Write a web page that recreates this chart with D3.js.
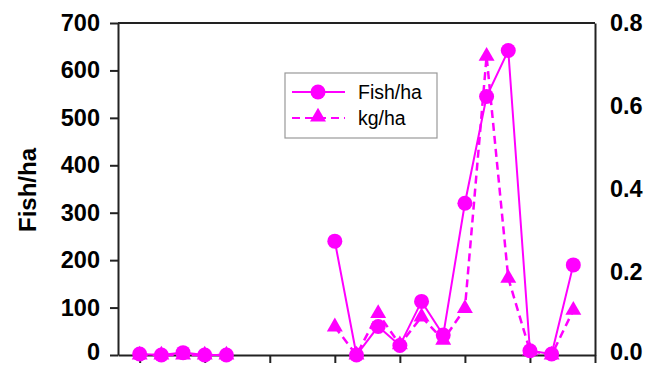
<!DOCTYPE html>
<html>
<head>
<meta charset="utf-8">
<script src="https://cdn.jsdelivr.net/npm/d3@7"></script>
<style>
  body { margin: 0; background: #fff; }
  svg { display: block; font-family: "Liberation Sans", Arial, sans-serif; }
</style>
</head>
<body>
<figure id="chart" style="margin:0"></figure>
<script>
// sampling points (no labels on the x axis)
const sites = d3.range(0, 21);
const fishHa = [2, 0, 5, 0, 0, null, null, null, null, 240, 0, 60, 20, 113, 42, 320, 545, 642, 9, 2, 190];
const kgHa = [0, 0, 0, 0, 0, null, null, null, null, 0.068, 0, 0.10, 0.025, 0.092, 0.036, 0.112, 0.72, 0.185, 0.01, 0, 0.108];
const leftTicks = [0, 100, 200, 300, 400, 500, 600, 700];
const rightTicks = [0, 0.2, 0.4, 0.6, 0.8];
const xTicks = [0, 3, 6, 9, 12, 15, 18, 21];

const width = 662, height = 366;
const margin = { top: 23, right: 67, bottom: 11, left: 118 };
const pink = "#ff00ff";
const axisColor = "#222";

const svg = d3.select("figure#chart")
  .append("svg")
  .attr("width", width)
  .attr("height", height);

const x = d3.scaleLinear().domain([-1, 21]).range([margin.left, width - margin.right]);
const yL = d3.scaleLinear().domain([0, 700]).range([height - margin.bottom, margin.top]);
const yR = d3.scaleLinear().domain([0, 0.8]).range([height - margin.bottom, margin.top]);

// axes
const gL = svg.append("g")
  .attr("transform", "translate(" + margin.left + ",0)")
  .call(d3.axisLeft(yL).tickValues(leftTicks).tickSize(8).tickPadding(10).tickSizeOuter(0));

const gR = svg.append("g")
  .attr("transform", "translate(" + (width - margin.right) + ",0)")
  .call(d3.axisRight(yR).tickValues(rightTicks).tickFormat(d3.format(".1f")).tickSize(0).tickPadding(15).tickSizeOuter(0));

const gB = svg.append("g")
  .attr("transform", "translate(0," + (height - margin.bottom) + ")")
  .call(d3.axisBottom(x).tickValues(xTicks).tickSize(8).tickFormat("").tickSizeOuter(0));

svg.append("line")
  .attr("x1", margin.left).attr("x2", width - margin.right)
  .attr("y1", margin.top).attr("y2", margin.top)
  .attr("stroke", axisColor).attr("stroke-width", 2);

[gL, gR, gB].forEach(g => {
  g.selectAll("path.domain, line").attr("stroke", axisColor).attr("stroke-width", 2);
  g.selectAll("text")
    .attr("fill", "#000")
    .style("font-size", "23.5px")
    .style("font-weight", "bold");
});
// keep the zero labels inside the picture
gL.selectAll(".tick").filter(d => d === 0).select("text").attr("dy", "0.2em");
gR.selectAll(".tick").filter(d => d === 0).select("text").attr("dy", "0.2em");

svg.append("text")
  .attr("transform", "translate(36,190) rotate(-90)")
  .attr("text-anchor", "middle")
  .style("font-size", "24px")
  .style("font-weight", "bold")
  .text("Fish/ha");

// series
const kgLine = d3.line()
  .defined(d => d[1] !== null)
  .x(d => x(d[0]))
  .y(d => yR(d[1]));

const fishLine = d3.line()
  .defined(d => d[1] !== null)
  .x(d => x(d[0]))
  .y(d => yL(d[1]));

const kgData = sites.map((s, i) => [s, kgHa[i]]);
const fishData = sites.map((s, i) => [s, fishHa[i]]);

svg.append("path")
  .datum(kgData)
  .attr("d", kgLine)
  .attr("fill", "none")
  .attr("stroke", pink)
  .attr("stroke-width", 2.5)
  .attr("stroke-dasharray", "8,5");

svg.selectAll(".tri")
  .data(kgData.filter(d => d[1] !== null))
  .enter()
  .append("path")
  .attr("transform", d => "translate(" + x(d[0]) + "," + yR(d[1]) + ")")
  .attr("d", d3.symbol(d3.symbolTriangle, 110))
  .attr("fill", pink);

svg.append("path")
  .datum(fishData)
  .attr("d", fishLine)
  .attr("fill", "none")
  .attr("stroke", pink)
  .attr("stroke-width", 2);

svg.selectAll(".dot")
  .data(fishData.filter(d => d[1] !== null))
  .enter()
  .append("circle")
  .attr("cx", d => x(d[0]))
  .attr("cy", d => yL(d[1]))
  .attr("r", 7.5)
  .attr("fill", pink);

// legend
const lg = svg.append("g").attr("transform", "translate(285,73)");
lg.append("rect")
  .attr("width", 152).attr("height", 65)
  .attr("fill", "#fff")
  .attr("stroke", "#999").attr("stroke-width", 1.2);

lg.append("line").attr("x1", 7).attr("x2", 60).attr("y1", 19).attr("y2", 19)
  .attr("stroke", pink).attr("stroke-width", 2);
lg.append("circle").attr("cx", 33).attr("cy", 19).attr("r", 7.5).attr("fill", pink);
lg.append("text").attr("x", 73).attr("y", 19).attr("dy", "0.35em")
  .style("font-size", "19.5px").text("Fish/ha");

lg.append("line").attr("x1", 7).attr("x2", 60).attr("y1", 45).attr("y2", 45)
  .attr("stroke", pink).attr("stroke-width", 2).attr("stroke-dasharray", "8,5");
lg.append("path").attr("transform", "translate(33,44)")
  .attr("d", d3.symbol(d3.symbolTriangle, 110)).attr("fill", pink);
lg.append("text").attr("x", 73).attr("y", 45).attr("dy", "0.35em")
  .style("font-size", "19.5px").text("kg/ha");
</script>
</body>
</html>
